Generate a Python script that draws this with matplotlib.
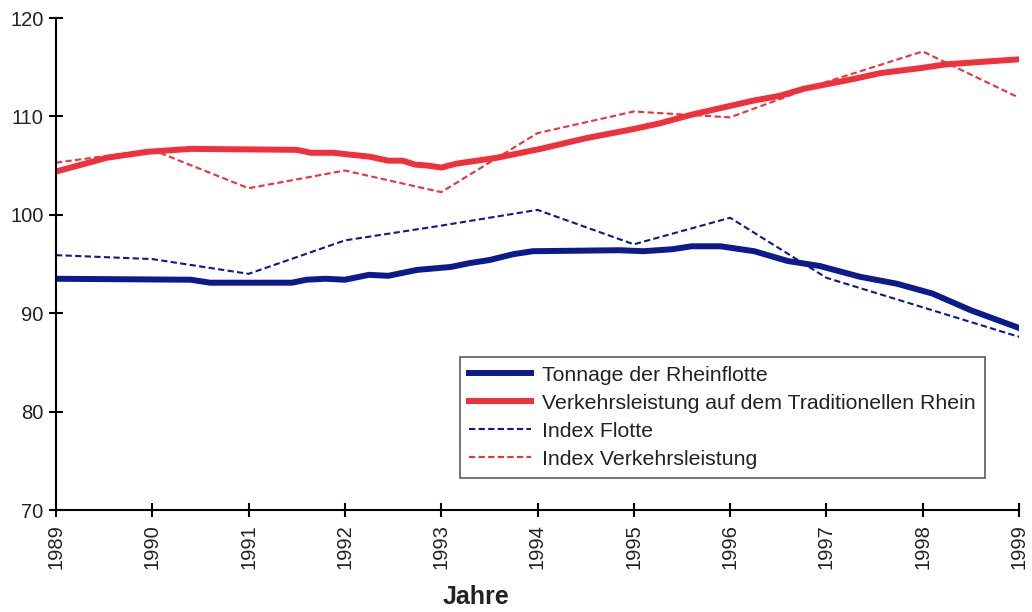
import matplotlib
matplotlib.use("Agg")
import matplotlib.pyplot as plt

plt.rcParams['font.family'] = ['Liberation Sans', 'DejaVu Sans']

# Tonnage der Rheinflotte
tonnage_x = [1989.0, 1990.4, 1990.6, 1991.45, 1991.6, 1991.8, 1992.0, 1992.25,
             1992.45, 1992.75, 1993.1, 1993.3, 1993.5, 1993.75, 1993.95, 1994.85,
             1995.1, 1995.4, 1995.6, 1995.9, 1996.25, 1996.6, 1996.93, 1997.35,
             1997.73, 1998.1, 1998.5, 1999.0]
tonnage_y = [93.5, 93.4, 93.1, 93.1, 93.4, 93.5, 93.4, 93.9,
             93.8, 94.4, 94.7, 95.1, 95.4, 96.0, 96.3, 96.4,
             96.3, 96.5, 96.8, 96.8, 96.3, 95.3, 94.8, 93.7,
             93.0, 92.0, 90.3, 88.5]

# Verkehrsleistung auf dem Traditionellen Rhein
verkehr_x = [1989.0, 1989.53, 1989.95, 1990.4, 1991.5, 1991.65, 1991.88, 1992.26,
             1992.45, 1992.6, 1992.73, 1992.86, 1993.0, 1993.16, 1993.58, 1994.03,
             1994.51, 1994.99, 1995.27, 1995.61, 1995.97, 1996.24, 1996.52, 1996.76,
             1997.28, 1997.56, 1997.97, 1998.25, 1999.0]
verkehr_y = [104.4, 105.8, 106.4, 106.7, 106.6, 106.3, 106.3, 105.9,
             105.5, 105.5, 105.1, 105.0, 104.8, 105.2, 105.8, 106.7,
             107.8, 108.7, 109.3, 110.2, 111.0, 111.6, 112.1, 112.8,
             113.8, 114.4, 114.9, 115.3, 115.8]

jahre = [1989, 1990, 1991, 1992, 1993, 1994, 1995, 1996, 1997, 1998, 1999]
index_flotte = [95.9, 95.5, 94.0, 97.4, 98.9, 100.5, 97.0, 99.7, 93.6, 90.6, 87.6]
index_verkehr = [105.3, 106.6, 102.7, 104.5, 102.3, 108.3, 110.5, 109.9, 113.5, 116.6, 111.9]

blau = '#0b1a8c'
rot = '#f0303a'

fig = plt.figure(figsize=(10.32, 6.12), dpi=100)
ax = fig.add_axes([56 / 1032, 1 - 510 / 612, 963 / 1032, 492 / 612])

ax.plot(tonnage_x, tonnage_y, color=blau, lw=4.3, label='Tonnage der Rheinflotte',
        solid_joinstyle='round')
ax.plot(verkehr_x, verkehr_y, color=rot, lw=4.3,
        label='Verkehrsleistung auf dem Traditionellen Rhein', solid_joinstyle='round')
ax.plot(jahre, index_flotte, color=blau, lw=1.5, dashes=(3, 1.6), label='Index Flotte')
ax.plot(jahre, index_verkehr, color=rot, lw=1.5, dashes=(3, 1.6), label='Index Verkehrsleistung')

ax.set_xlim(1989, 1999)
ax.set_ylim(70, 120)
ax.set_xticks(jahre)
ax.set_xticklabels([str(j) for j in jahre], rotation=90)
ax.set_yticks(range(70, 121, 10))

for s in ['top', 'right']:
    ax.spines[s].set_visible(False)
for s in ['left', 'bottom']:
    ax.spines[s].set_linewidth(1.5)
ax.tick_params(axis='both', direction='inout', length=10, width=1.5, labelsize=14.5,
               labelcolor='#222222')
ax.tick_params(axis='x', pad=5)
ax.tick_params(axis='y', pad=4)

leg = fig.legend(loc='upper left', bbox_to_anchor=(460 / 1032, 1 - 357 / 612),
                 fontsize=15.3, frameon=True, fancybox=False, handlelength=2.9,
                 handletextpad=0.55, labelspacing=0.42, borderpad=0.42,
                 borderaxespad=0)
leg.get_frame().set_edgecolor('#333333')
leg.get_frame().set_linewidth(1.2)
for t in leg.get_texts():
    t.set_color('#222222')

fig.text(476 / 1032, 1 - 597 / 612, 'Jahre', ha='center', va='center',
         fontsize=18, fontweight='bold', color='#222222')

fig.savefig('out.png', dpi=100)
